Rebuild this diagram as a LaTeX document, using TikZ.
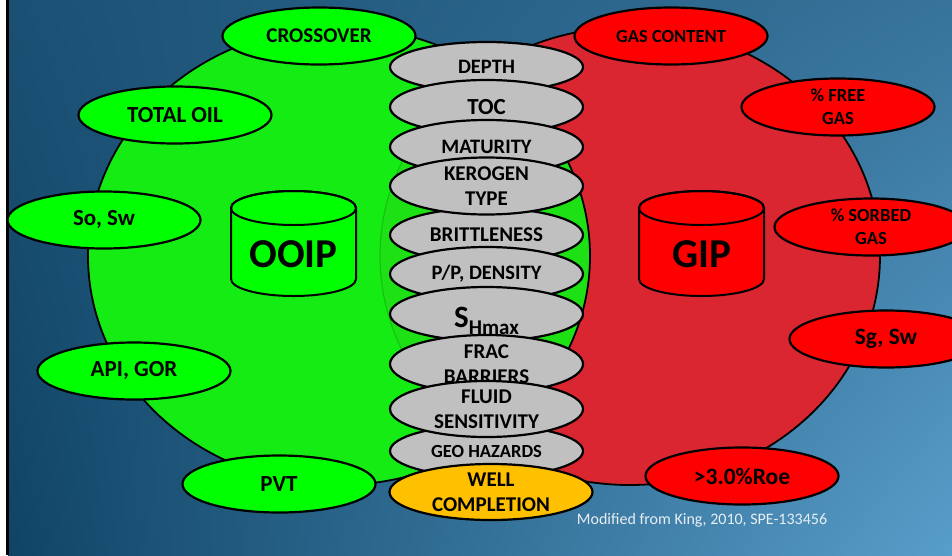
\documentclass[tikz,border=0pt]{standalone}
\usepackage{fontspec}
\setmainfont{Carlito}
\usetikzlibrary{shapes.geometric,shadings}

\definecolor{bgUL}{RGB}{26,80,115}
\definecolor{bgLL}{RGB}{16,68,102}
\definecolor{bgUR}{RGB}{55,115,155}
\definecolor{bgLR}{RGB}{88,158,202}
\definecolor{oilbig}{RGB}{20,236,20}
\definecolor{gasbig}{RGB}{218,38,48}
\definecolor{oilbub}{RGB}{0,255,0}
\definecolor{gasbub}{RGB}{255,0,0}
\definecolor{keybub}{RGB}{192,192,192}
\definecolor{wellbub}{RGB}{255,192,0}
\definecolor{notecol}{RGB}{232,238,244}

\begin{document}
\begin{tikzpicture}[x=1pt,y=-1pt,
  bub/.style={ellipse, draw=black, line width=2.2pt, minimum width=193pt,
    minimum height=57pt, inner sep=0pt, align=center, text=black},
  fs/.style 2 args={font=\bfseries\fontsize{#1}{#2}\selectfont},
  oil/.style={bub, fill=oilbub},
  gas/.style={bub, fill=gasbub},
  key/.style={bub, fill=keybub, minimum height=54pt},
  well/.style={bub, fill=wellbub, minimum width=203pt, minimum height=56pt},
  tank/.style={draw=black, line width=2pt},
  tanklabel/.style={font=\bfseries\fontsize{41}{41}\selectfont, text=black}
]
\useasboundingbox (0,0) rectangle (952,555);

% backdrop: white margin, black rule, blue gradient panel
\fill[white] (0,0) rectangle (952,555);
\shade[upper left=bgUL, upper right=bgUR, lower left=bgLL, lower right=bgLR]
  (8,0) rectangle (952,555);
\fill[black] (6,0) rectangle (8.5,555);

% the two resource domains; the oil domain lies over the gas domain
\filldraw[fill=gasbig, draw=black, line width=1.8pt]
  (630,256) ellipse [x radius=250, y radius=229];
\fill[oilbig] (339,256) ellipse [x radius=251, y radius=229];
\begin{scope}
  \clip (339,256) ellipse [x radius=251, y radius=229];
  \fill[gasbig, opacity=0.05] (630,256) ellipse [x radius=250, y radius=229];
  \draw[black, opacity=0.15, line width=1.2pt] (630,256) ellipse [x radius=250, y radius=229];
\end{scope}
\draw[black, line width=1.8pt] (339,256) ellipse [x radius=251, y radius=229];

% oil tank
\filldraw[tank, fill=oilbub] (231,208) -- (231,279)
  arc[start angle=180, end angle=0, x radius=62.5, y radius=17]
  -- (356,208) arc[start angle=0, end angle=-180, x radius=62.5, y radius=17] -- cycle;
\draw[tank] (293.5,208) ellipse [x radius=62.5, y radius=17];
\node[tanklabel] (ooip) at (293.5,254) {OOIP};

% gas tank
\filldraw[tank, fill=gasbub] (639,208) -- (639,279)
  arc[start angle=180, end angle=0, x radius=62.5, y radius=17]
  -- (764,208) arc[start angle=0, end angle=-180, x radius=62.5, y radius=17] -- cycle;
\draw[tank] (701.5,208) ellipse [x radius=62.5, y radius=17];
\node[tanklabel] (gip) at (701.5,254) {GIP};

% oil attributes
\node[oil, fs={21}{25}] (crossover) at (319,36)  {CROSSOVER};
\node[oil, fs={23}{27}] (totaloil)  at (175,115) {TOTAL OIL};
\node[oil, fs={23}{27}] (sosw)      at (104,220) {So, Sw};
\node[oil, fs={23}{27}] (apigor)    at (134,371) {API, GOR};
\node[oil, fs={23}{27}] (pvt)       at (279,484) {PVT};

% gas attributes
\node[gas, fs={18.5}{23}] (gascontent) at (671,36)  {GAS CONTENT};
\node[gas, fs={18.5}{23}] (freegas)    at (838,107) {\% FREE\\GAS};
\node[gas, fs={18.5}{23}] (sorbedgas)  at (871,227) {\% SORBED\\GAS};
\node[gas, fs={23.5}{27}] (sgsw)       at (886,339) {Sg, Sw};
\node[gas, fs={23.5}{27}] (roe)        at (742,476) {>3.0\%Roe};

% shared attributes, stacked top to bottom (drawing order sets the overlaps)
\node[key, fs={20.5}{25}, minimum height=50pt] (depth) at (486.5,67) {DEPTH};
\node[key, fs={23}{27}]   (toc)       at (486.5,107) {TOC};
\node[key, fs={20.5}{25}] (maturity)  at (486.5,147) {MATURITY};
\node[key, fs={21}{25}]   (brittle)   at (486.5,235) {BRITTLENESS};
\node[key, fs={21}{25}, minimum height=57pt] (kerogen) at (486.5,186) {KEROGEN\\TYPE};
\node[key, fs={20.5}{25}] (ppdensity) at (486.5,274) {P/P, DENSITY};
\node[key] (shmax) at (486.5,314) {};
\node[anchor=base, inner sep=0pt] (shmaxlabel) at (486.5,327)
  {\bfseries\fontsize{31}{31}\selectfont S\raisebox{-7pt}{\fontsize{21}{21}\selectfont Hmax}};
\node[key, fs={21}{25}, minimum height=58pt] (frac) at (486.5,364) {FRAC\\BARRIERS};
\node[key, fs={18.5}{23}, minimum height=52pt] (geohaz) at (486.5,451) {GEO HAZARDS};
\node[key, fs={21}{25}, minimum height=56pt] (fluid) at (486.5,409) {FLUID\\SENSITIVITY};
\node[well, fs={21}{25}]  (well)      at (491,492) {WELL\\COMPLETION};

% source note
\node[text=notecol, font=\fontsize{16}{19}\selectfont] (source) at (702,520)
  {Modified from King, 2010, SPE-133456};
\end{tikzpicture}
\end{document}
